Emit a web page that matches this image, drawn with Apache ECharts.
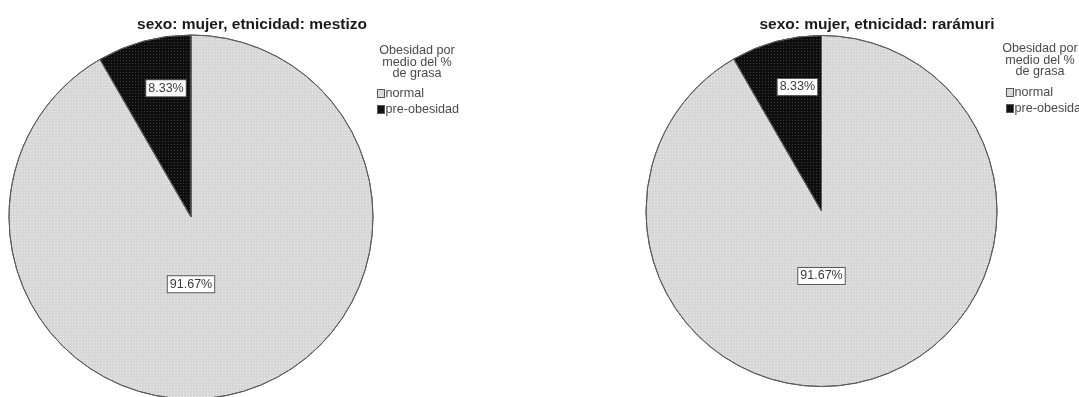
<!DOCTYPE html>
<html>
<head>
<meta charset="utf-8">
<script src="https://cdn.jsdelivr.net/npm/echarts@6/dist/echarts.min.js"></script>
<style>
  html, body { margin: 0; padding: 0; background: #fff; }
  #chart { width: 1079px; height: 397px; }
</style>
</head>
<body>
<div id="chart"></div>
<script>
// Categories and counts per panel
const categories = ['normal', 'pre-obesidad'];
const panelTitles = ['sexo: mujer, etnicidad: mestizo', 'sexo: mujer, etnicidad: rarámuri'];
const countsMestizo = [11, 1];
const countsRaramuri = [11, 1];
const legendTitle = 'Obesidad por\nmedio del %\nde grasa';

// Panel geometry (pixels)
const centers = [[191, 217], [821.5, 211]];
const radii = [182, 175.5];
const titleX = [252, 877];
const legendX = [377, 1006];
const legendTitleX = [417, 1040];
const legendTitleY = [45, 43];

// Label placement inside each slice: fraction of radius and angle (deg, math convention)
const labelPlace = [
  { frac: 0.37, angle: 270 },
  { frac: 0.72, angle: 101 }
];

const fillColors = ['#d7d7d7', '#0e0e0e'];
const dotColors = ['rgba(255,255,255,0.55)', 'rgba(90,90,90,0.6)'];
const FONT = 'Liberation Sans, Arial, sans-serif';

function makeSeries(idx, counts) {
  return {
    type: 'pie',
    center: centers[idx],
    radius: radii[idx],
    startAngle: 90,
    clockwise: true,
    silent: true,
    animation: false,
    data: categories.map((c, i) => ({
      name: c,
      value: counts[i],
      itemStyle: {
        color: fillColors[i],
        decal: {
          symbol: 'rect',
          symbolSize: 1,
          dashArrayX: [1, 2],
          dashArrayY: [1, 2],
          color: dotColors[i],
          rotation: 0
        }
      }
    })),
    itemStyle: { borderColor: '#5a5a5a', borderWidth: 1 },
    label: {
      show: true,
      position: 'inside',
      formatter: '{d}%',
      fontFamily: FONT,
      fontSize: 12.5,
      color: '#3a3a3a',
      backgroundColor: '#ffffff',
      borderColor: '#5a5a5a',
      borderWidth: 1,
      padding: [2, 2, 1, 2]
    },
    labelLine: { show: false },
    labelLayout: function (p) {
      const pl = labelPlace[p.dataIndex];
      const a = pl.angle * Math.PI / 180;
      const r = radii[idx] * pl.frac;
      return {
        x: centers[idx][0] + r * Math.cos(a),
        y: centers[idx][1] - r * Math.sin(a),
        align: 'center',
        verticalAlign: 'middle'
      };
    }
  };
}

const chart = echarts.init(document.getElementById('chart'), null, { renderer: 'canvas' });

const titleStyle = {
  fontFamily: FONT,
  fontSize: 15.5,
  fontWeight: 'bold',
  color: '#1a1a1a'
};
const legendTitleStyle = {
  fontFamily: FONT,
  fontSize: 12.6,
  fontWeight: 'normal',
  color: '#4a4a4a',
  lineHeight: 11.5,
  align: 'center'
};

chart.setOption({
  backgroundColor: '#ffffff',
  animation: false,
  title: [
    { text: panelTitles[0], left: titleX[0], top: 17, textAlign: 'center', textStyle: titleStyle, padding: 0 },
    { text: panelTitles[1], left: titleX[1], top: 17, textAlign: 'center', textStyle: titleStyle, padding: 0 },
    { text: legendTitle, left: legendTitleX[0], top: legendTitleY[0], textAlign: 'center', textStyle: legendTitleStyle, padding: 0 },
    { text: legendTitle, left: legendTitleX[1], top: legendTitleY[1], textAlign: 'center', textStyle: legendTitleStyle, padding: 0 }
  ],
  legend: [0, 1].map(i => ({
    orient: 'vertical',
    left: legendX[i],
    top: 87 - (i === 1 ? 1 : 0),
    padding: 0,
    itemGap: 3,
    itemWidth: 7,
    itemHeight: 8,
    icon: 'rect',
    itemStyle: { borderColor: '#555', borderWidth: 1 },
    selectedMode: false,
    data: categories,
    textStyle: {
      fontFamily: FONT,
      fontSize: 12.6,
      color: '#4a4a4a',
      padding: [0, 0, 0, -4]
    }
  })),
  series: [makeSeries(0, countsMestizo), makeSeries(1, countsRaramuri)]
});
</script>
</body>
</html>
